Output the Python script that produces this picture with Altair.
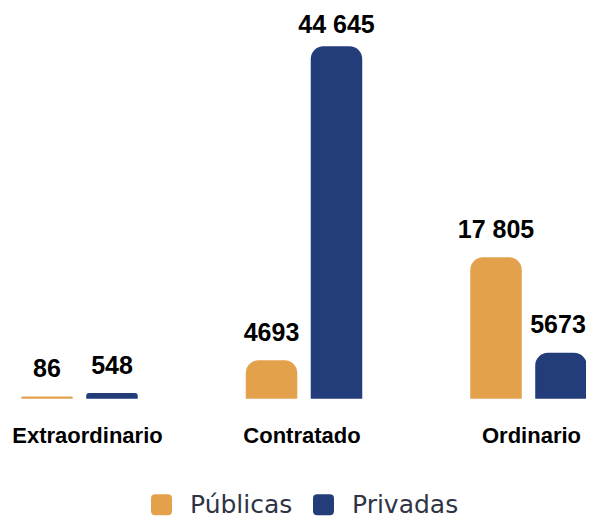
import altair as alt
import pandas as pd

categories = ["Extraordinario", "Contratado", "Ordinario"]
series = ["Públicas", "Privadas"]
publicas = [86, 4693, 17805]
privadas = [548, 44645, 5673]
publicas_labels = ["86", "4693", "17 805"]
privadas_labels = ["548", "44 645", "5673"]
colors = ["#E3A14C", "#233D7B"]

rows = []
for i, c in enumerate(categories):
    rows.append({"cat": c, "serie": series[0], "valor": publicas[i], "etiqueta": publicas_labels[i]})
    rows.append({"cat": c, "serie": series[1], "valor": privadas[i], "etiqueta": privadas_labels[i]})
df = pd.DataFrame(rows)

rounded = "M-0.6,-1H0.6Q1,-1,1,-0.6V0.6Q1,1,0.6,1H-0.6Q-1,1,-1,0.6V-0.6Q-1,-1,-0.6,-1Z"

x = alt.X(
    "cat:N",
    sort=categories,
    scale=alt.Scale(paddingInner=0.4878, paddingOuter=0.0312, align=1),
    axis=alt.Axis(
        title=None, domain=False, ticks=False, tickSize=0, labelAngle=0,
        labelFont="Liberation Sans", labelFontSize=22, labelFontWeight="bold",
        labelColor="#000000", labelPadding=44, labelBaseline="alphabetic",
        labelOffset=alt.ExprRef("datum.value === 'Extraordinario' ? 8 : (datum.value === 'Ordinario' ? 3 : -2)"),
    ),
)
xo = alt.XOffset("serie:N", sort=series, scale=alt.Scale(paddingInner=0.23, paddingOuter=0))
y = alt.Y("valor:Q", scale=alt.Scale(domain=[0, 44645], nice=False), axis=None)
color_scale = alt.Scale(domain=series, range=colors)
color = alt.Color(
    "serie:N",
    sort=series,
    scale=color_scale,
    legend=alt.Legend(
        title=None, orient="none", legendX=141, legendY=445, direction="horizontal",
        symbolType=rounded, symbolSize=441, symbolStrokeWidth=0, symbolOpacity=1,
        labelFont="DejaVu Sans", labelFontSize=25, labelColor="#2f3445",
        labelOffset=16, columnPadding=18, padding=0,
    ),
)
stroke = alt.Stroke("serie:N", sort=series, scale=color_scale, legend=None)

base = alt.Chart(df).encode(x=x, xOffset=xo, y=y)
bars = base.mark_bar(
    cornerRadiusTopLeft=12, cornerRadiusTopRight=12, strokeWidth=1.5
).encode(color=color, stroke=stroke)
text = base.mark_text(
    dy=alt.ExprRef("datum.etiqueta === '44 645' ? -14 : -20"),
    dx=alt.ExprRef("datum.etiqueta === '5673' ? -3 : 0"),
    baseline="alphabetic", font="Liberation Sans", fontSize=25,
    fontWeight="bold", color="#000000",
).encode(text="etiqueta:N")

chart = alt.layer(bars, text).properties(
    width=578,
    height=351,
    autosize=alt.AutoSizeParams(type="none"),
    padding={"left": 0, "top": 39, "right": 0, "bottom": 122},
).configure_view(stroke=None)

chart.save("out.html", embed_options={"renderer": "svg", "actions": False})
